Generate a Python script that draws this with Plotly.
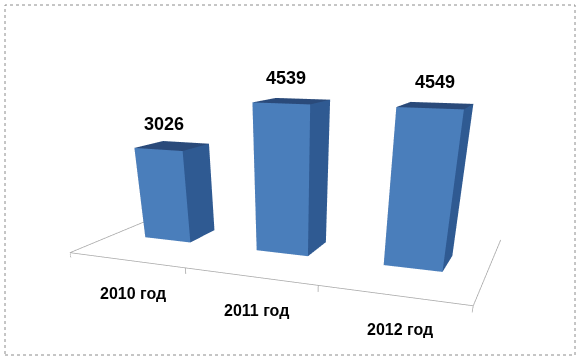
import plotly.graph_objects as go

categories = ["2010 год", "2011 год", "2012 год"]
values = [3026, 4539, 4549]

half_w = 0.21
half_d = 0.13
shear = 0.38  # oblique depth offset (x units per depth unit), as in the Excel 3-D view
front_col = "#4A7EBB"
side_col = "#2F5A92"
top_col = "#2A4A7A"


def px(x, y):
    return x + shear * y


X, Y, Z, I, J, K, FC = [], [], [], [], [], [], []
for idx, v in enumerate(values):
    cx = idx
    base = len(X)
    corners = [
        (cx - half_w, -half_d, 0), (cx + half_w, -half_d, 0),
        (cx + half_w, half_d, 0), (cx - half_w, half_d, 0),
        (cx - half_w, -half_d, v), (cx + half_w, -half_d, v),
        (cx + half_w, half_d, v), (cx - half_w, half_d, v),
    ]
    for c in corners:
        X.append(px(c[0], c[1])); Y.append(c[1]); Z.append(c[2])
    faces = [
        ((0, 1, 5), front_col), ((0, 5, 4), front_col),
        ((1, 2, 6), side_col), ((1, 6, 5), side_col),
        ((4, 5, 6), top_col), ((4, 6, 7), top_col),
        ((3, 0, 4), side_col), ((3, 4, 7), side_col),
        ((2, 3, 7), side_col), ((2, 7, 6), side_col),
        ((0, 2, 1), side_col), ((0, 3, 2), side_col),
    ]
    for (a, b, c), col in faces:
        I.append(base + a); J.append(base + b); K.append(base + c); FC.append(col)

fig = go.Figure()
fig.add_trace(go.Mesh3d(
    x=X, y=Y, z=Z, i=I, j=J, k=K, facecolor=FC, flatshading=True,
    lighting=dict(ambient=1, diffuse=0, specular=0, fresnel=0, roughness=1),
    hoverinfo="skip", showscale=False,
))

n = len(categories)
fx0, fx1 = -0.5, n - 0.5
fy0, fy1 = -0.5, 0.5
tick = -200
lx, ly, lz = [], [], []
for seg in [((fx0, fy0, 0), (fx1, fy0, 0)),
            ((fx0, fy0, 0), (fx0, fy1, 0)),
            ((fx1, fy0, 0), (fx1, fy1, 0))]:
    for p in seg:
        lx.append(px(p[0], p[1])); ly.append(p[1]); lz.append(p[2])
    lx.append(None); ly.append(None); lz.append(None)
for t in range(n + 1):
    xt = px(fx0 + t, fy0)
    lx += [xt, xt, None]; ly += [fy0, fy0, None]; lz += [0, tick, None]
fig.add_trace(go.Scatter3d(x=lx, y=ly, z=lz, mode="lines",
                           line=dict(color="#A6A6A6", width=1.5),
                           hoverinfo="skip", showlegend=False))

annotations = []
for idx, (c, v) in enumerate(zip(categories, values)):
    annotations.append(dict(x=px(idx, -half_d), y=-half_d, z=v, text=f"<b>{v}</b>", showarrow=False,
                            xshift=6, yshift=26, font=dict(family="Liberation Sans", size=18, color="black")))
    annotations.append(dict(x=px(idx, fy0), y=fy0, z=0, text=f"<b>{c}</b>", showarrow=False,
                            xshift=8, yshift=-34, font=dict(family="Liberation Sans", size=16, color="black")))

axis = dict(visible=False, showspikes=False)
xr = [px(fx0, fy0), px(fx1, fy1)]
fig.update_layout(
    width=580, height=362, margin=dict(l=0, r=0, t=0, b=0),
    paper_bgcolor="white", showlegend=False,
    scene=dict(
        xaxis=dict(axis, range=xr),
        yaxis=dict(axis, range=[fy0, fy1]),
        zaxis=dict(axis, range=[tick, 5000]),
        aspectmode="manual", aspectratio=dict(x=2.75, y=0.85, z=1.1),
        camera=dict(eye=dict(x=0.58, y=-2.45, z=0.8), center=dict(x=-0.01, y=0, z=-0.05),
                    projection=dict(type="perspective")),
        annotations=annotations,
        domain=dict(x=[0.02, 0.98], y=[0.02, 0.98]),
    ),
    shapes=[dict(type="rect", xref="paper", yref="paper",
                 x0=5 / 580, x1=575 / 580, y0=1 - 355 / 362, y1=1 - 5 / 362,
                 line=dict(color="#8C8C8C", width=1, dash="dot"))],
)
fig.write_html("out.html")
